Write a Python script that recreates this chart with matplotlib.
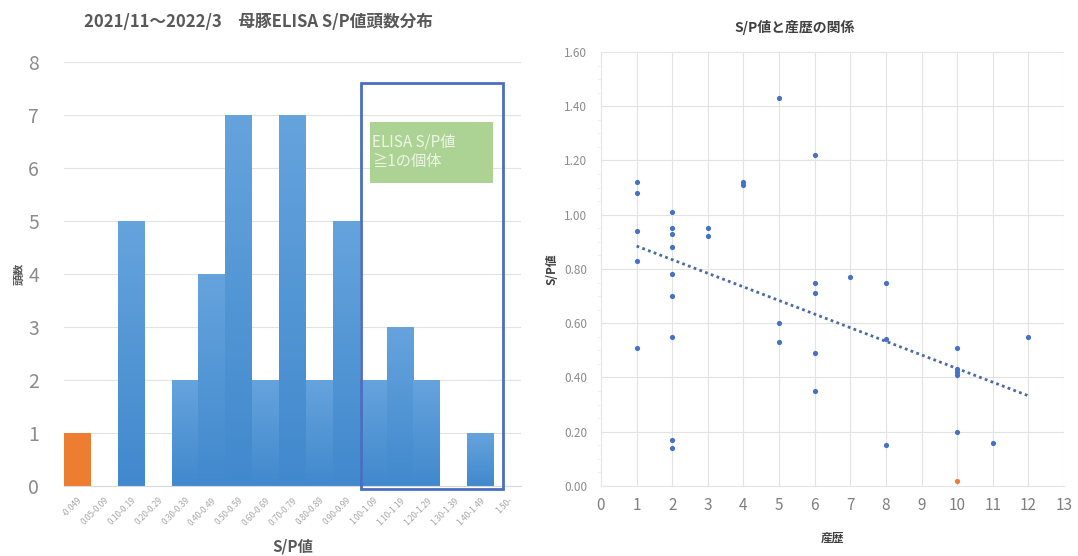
import numpy as np
import matplotlib
matplotlib.use("Agg")
import matplotlib.pyplot as plt
from matplotlib.patches import Rectangle

plt.rcParams['font.family'] = ['Noto Sans CJK JP', 'DejaVu Sans']

# S/P value bins and head counts
bins = ["-0.049", "0.05-0.09", "0.10-0.19", "0.20-0.29", "0.30-0.39", "0.40-0.49",
        "0.50-0.59", "0.60-0.69", "0.70-0.79", "0.80-0.89", "0.90-0.99", "1.00-1.09",
        "1.10-1.19", "1.20-1.29", "1.30-1.39", "1.40-1.49", "1.50-"]
counts = [1, 0, 5, 0, 2, 4, 7, 2, 7, 2, 5, 2, 3, 2, 0, 1, 0]

# parity vs S/P value per sow
parity = [1, 1, 1, 1, 1,
          2, 2, 2, 2, 2, 2, 2, 2, 2,
          3, 3,
          4, 4,
          5, 5, 5,
          6, 6, 6, 6, 6,
          7,
          8, 8, 8,
          10, 10, 10, 10, 10,
          11,
          12]
sp = [1.12, 1.08, 0.94, 0.83, 0.51,
      1.01, 0.95, 0.93, 0.88, 0.78, 0.70, 0.55, 0.17, 0.14,
      0.95, 0.92,
      1.12, 1.11,
      1.43, 0.60, 0.53,
      1.22, 0.75, 0.71, 0.49, 0.35,
      0.77,
      0.75, 0.54, 0.15,
      0.51, 0.43, 0.42, 0.41, 0.20,
      0.16,
      0.55]
neg_parity = [10]
neg_sp = [0.02]

BLUE = "#4472c4"
ORANGE = "#ed7d31"
GRID = "#e3e3e3"
TXT = "#595959"

fig = plt.figure(figsize=(10.78, 5.56), dpi=100)

# ---------- histogram ----------
ax1 = fig.add_axes([0.0594, 0.126, 0.4239, 0.7625])
x = np.arange(len(bins))
bars = ax1.bar(x, counts, width=1.0, color="#5b9bd5", linewidth=0, zorder=2)
grad = np.linspace(0, 1, 64).reshape(-1, 1)
cmap = matplotlib.colors.LinearSegmentedColormap.from_list("bar", ["#4189cd", "#65a3dd"])
for i, b in enumerate(bars):
    if counts[i] == 0:
        continue
    if i == 0:
        b.set_facecolor(ORANGE)
        continue
    b.set_facecolor("none")
    im = ax1.imshow(grad, extent=[b.get_x(), b.get_x() + b.get_width(), 0, b.get_height()],
                    origin="lower", cmap=cmap, aspect="auto", zorder=2)
    im.set_clip_path(b)

ax1.set_xlim(-0.5, len(bins) - 0.5)
ax1.set_ylim(0, 8)
ax1.set_yticks(range(0, 9))
ax1.set_xticks(x)
ax1.set_xticklabels(bins, rotation=45, ha="right", rotation_mode="anchor", fontsize=6, color="#a6a6a6")
ax1.tick_params(axis="y", labelsize=14, colors="#8c8c8c", length=0, pad=18)
ax1.tick_params(axis="x", length=0, pad=7)
ax1.grid(axis="y", color=GRID, linewidth=0.8, zorder=0)
for s in ["top", "right", "left"]:
    ax1.spines[s].set_visible(False)
ax1.spines["bottom"].set_color("#d9d9d9")
ax1.set_ylabel("頭数", fontsize=8, fontweight="bold", color=TXT, labelpad=2)
ax1.set_xlabel("S/P値", fontsize=11, fontweight="bold", color=TXT, labelpad=8)

# highlight for S/P >= 1
ax1.add_patch(Rectangle((10.54, -0.05), 5.28, 7.65, fill=False, edgecolor="#4a6fc0",
                        linewidth=2, zorder=4, clip_on=False))
ax1.add_patch(Rectangle((10.87, 5.72), 4.6, 1.15, facecolor="#a9d18e", edgecolor="none",
                        zorder=4, alpha=0.95))
ax1.text(10.95, 6.3, "ELISA S/P値\n≧1の個体", fontsize=11, color="#eef5e8",
         va="center", ha="left", linespacing=1.2, zorder=5)

fig.text(258 / 1078, 1 - 22 / 556, "2021/11～2022/3　母豚ELISA S/P値頭数分布",
         ha="center", va="center", fontsize=12, fontweight="bold", color=TXT)

# ---------- scatter ----------
ax2 = fig.add_axes([0.5575, 0.126, 0.4295, 0.7805])
ax2.scatter(parity, sp, s=14, color=BLUE, zorder=3, linewidths=0)
ax2.scatter(neg_parity, neg_sp, s=14, color=ORANGE, zorder=3, linewidths=0)

# linear trend over all sows
all_x = np.array(parity + neg_parity, dtype=float)
all_y = np.array(sp + neg_sp)
k, c = np.polyfit(all_x, all_y, 1)
tx = np.array([all_x.min(), all_x.max()])
ax2.plot(tx, k * tx + c, linestyle=(0, (1, 1.2)), color="#4a6aa8", linewidth=2, zorder=2)

ax2.set_xlim(0, 13)
ax2.set_ylim(0, 1.6)
ax2.set_xticks(range(0, 14))
ax2.set_yticks(np.arange(0, 1.61, 0.2))
ax2.set_yticklabels([f"{v:.2f}" for v in np.arange(0, 1.61, 0.2)])
ax2.set_yticks(np.arange(0, 1.61, 0.05), minor=True)
ax2.tick_params(axis="x", labelsize=11, colors="#7f7f7f", length=0, pad=8)
ax2.tick_params(axis="y", labelsize=8.5, colors="#8c8c8c", length=0, pad=10)
ax2.tick_params(axis="y", which="minor", length=3, color="#ececec")
ax2.grid(which="major", color=GRID, linewidth=0.8, zorder=0)
for s in ["top", "right"]:
    ax2.spines[s].set_visible(False)
ax2.spines["left"].set_color("#e6e6e6")
ax2.spines["bottom"].set_color("#e6e6e6")
ax2.set_xlabel("産歴", fontsize=8.5, fontweight="bold", color="#404040", labelpad=13)
ax2.set_ylabel("S/P値", fontsize=8.5, fontweight="bold", color="#404040", labelpad=4)

fig.text(795 / 1078, 1 - 27 / 556, "S/P値と産歴の関係",
         ha="center", va="center", fontsize=10, fontweight="bold", color="#404040")

fig.savefig("out.png", dpi=100)
